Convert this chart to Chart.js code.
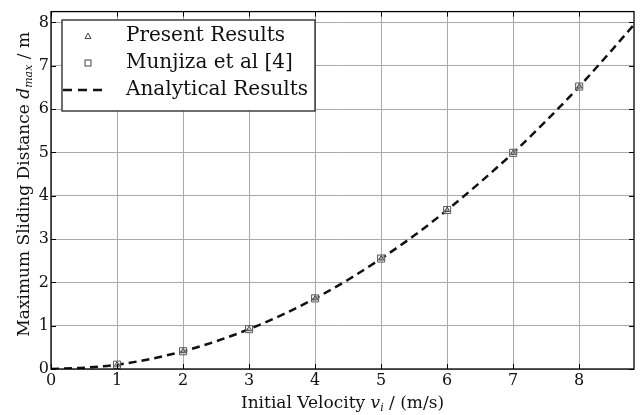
<!DOCTYPE html>
<html>
<head>
<meta charset="utf-8">
<script src="https://cdn.jsdelivr.net/npm/chart.js@4.4.0/dist/chart.umd.min.js"></script>
<style>
html,body{margin:0;padding:0;background:#fff;}
#wrap{width:641px;height:415px;}
</style>
</head>
<body>
<div id="wrap"><canvas id="c" width="641" height="415"></canvas></div>
<script>
// ---- data ----
const velocities = [1, 2, 3, 4, 5, 6, 7, 8];
const presentResults = [0.10, 0.41, 0.92, 1.63, 2.55, 3.67, 4.99, 6.52];
const munjizaResults = [0.10, 0.41, 0.92, 1.63, 2.55, 3.67, 4.99, 6.52];
const analyticalV = [0, 0.5, 1, 1.5, 2, 2.5, 3, 3.5, 4, 4.5, 5, 5.5, 6, 6.5, 7, 7.5, 8, 8.5, 8.83];
const analyticalD = [0, 0.03, 0.10, 0.23, 0.41, 0.64, 0.92, 1.25, 1.63, 2.06, 2.55, 3.08, 3.67, 4.31, 4.99, 5.73, 6.52, 7.37, 7.95];
const xTicks = [0, 1, 2, 3, 4, 5, 6, 7, 8];
const yTicks = [0, 1, 2, 3, 4, 5, 6, 7, 8];
const seriesLabels = ['Present Results', 'Munjiza et al [4]', 'Analytical Results'];

const FONT = '"DejaVu Serif", "Liberation Serif", serif';

function pts(xs, ys){ return xs.map((x,i)=>({x:x, y:ys[i]})); }

const frameAndTicks = {
  id: 'frameAndTicks',
  afterDatasetsDraw(chart){
    const {ctx, chartArea:a, scales} = chart;
    ctx.save();
    ctx.strokeStyle = '#000';
    ctx.lineWidth = 1;
    // inward tick marks
    ctx.beginPath();
    xTicks.forEach(v=>{
      const px = Math.round(scales.x.getPixelForValue(v)) + 0.5;
      ctx.moveTo(px, a.bottom); ctx.lineTo(px, a.bottom - 5);
      ctx.moveTo(px, a.top); ctx.lineTo(px, a.top + 5);
    });
    yTicks.forEach(v=>{
      const py = Math.round(scales.y.getPixelForValue(v)) + 0.5;
      ctx.moveTo(a.left, py); ctx.lineTo(a.left + 5, py);
      ctx.moveTo(a.right, py); ctx.lineTo(a.right - 5, py);
    });
    ctx.stroke();
    ctx.lineWidth = 1.3;
    ctx.strokeRect(a.left, a.top, a.right - a.left, a.bottom - a.top);

    // legend box
    const lx = 62, ly = 20, lw = 253, lh = 91;
    ctx.fillStyle = '#fff';
    ctx.fillRect(lx, ly, lw, lh);
    ctx.strokeStyle = '#222';
    ctx.lineWidth = 1.3;
    ctx.strokeRect(lx, ly, lw, lh);
    const rows = [36, 63, 90];
    const mx = 88;
    // triangle
    ctx.strokeStyle = '#444'; ctx.lineWidth = 1;
    ctx.beginPath();
    ctx.moveTo(mx, rows[0]-3); ctx.lineTo(mx+3, rows[0]+2.5); ctx.lineTo(mx-3, rows[0]+2.5); ctx.closePath();
    ctx.stroke();
    // square
    ctx.strokeRect(mx-3, rows[1]-3, 6, 6);
    // dashed line
    ctx.strokeStyle = '#111'; ctx.lineWidth = 2.5;
    ctx.setLineDash([9, 6]);
    ctx.beginPath(); ctx.moveTo(63, rows[2]); ctx.lineTo(106, rows[2]); ctx.stroke();
    ctx.setLineDash([]);
    ctx.fillStyle = '#111';
    ctx.font = '20px ' + FONT;
    ctx.textBaseline = 'middle';
    ctx.textAlign = 'left';
    seriesLabels.forEach((t,i)=> ctx.fillText(t, 126, rows[i]));

    // axis titles with italic math parts
    function drawRich(parts, cx, cy, rot){
      ctx.save();
      ctx.translate(cx, cy);
      ctx.rotate(rot);
      let total = 0;
      parts.forEach(p=>{ ctx.font = p.f; p.w = ctx.measureText(p.t).width; total += p.w; });
      let x = -total/2;
      ctx.textBaseline = 'alphabetic';
      ctx.textAlign = 'left';
      parts.forEach(p=>{ ctx.font = p.f; ctx.fillText(p.t, x, 5 + (p.dy||0)); x += p.w; });
      ctx.restore();
    }
    ctx.fillStyle = '#111';
    const base = '17px ' + FONT;
    const ital = 'italic 17px ' + FONT;
    const sub = 'italic 11px ' + FONT;
    drawRich([
      {t:'Initial Velocity ', f:base},
      {t:'v', f:ital},
      {t:'i', f:sub, dy:3},
      {t:' / (m/s)', f:base}
    ], (a.left + a.right)/2, 403, 0);
    drawRich([
      {t:'Maximum Sliding Distance ', f:base},
      {t:'d', f:ital},
      {t:'max', f:sub, dy:3},
      {t:' / m', f:base}
    ], 24, (a.top + a.bottom)/2 - 6, -Math.PI/2);
    ctx.restore();
  }
};

new Chart(document.getElementById('c'), {
  type: 'scatter',
  data: {
    datasets: [
      {
        label: seriesLabels[2],
        type: 'line',
        data: pts(analyticalV, analyticalD),
        borderColor: '#111',
        borderWidth: 2.5,
        borderDash: [8, 5],
        pointRadius: 0,
        fill: false,
        cubicInterpolationMode: 'monotone',
        order: 3
      },
      {
        label: seriesLabels[1],
        data: pts(velocities, munjizaResults),
        pointStyle: 'rect',
        pointRadius: 5,
        pointBorderColor: '#555',
        pointBackgroundColor: 'rgba(255,255,255,0.6)',
        pointBorderWidth: 1,
        order: 2
      },
      {
        label: seriesLabels[0],
        data: pts(velocities, presentResults),
        pointStyle: 'triangle',
        pointRadius: 3,
        pointBorderColor: '#444',
        pointBackgroundColor: 'rgba(255,255,255,0)',
        pointBorderWidth: 1,
        order: 1
      }
    ]
  },
  options: {
    responsive: false,
    animation: false,
    devicePixelRatio: 1,
    layout: { padding: { top: 10, right: 7, left: 0, bottom: 0 } },
    plugins: { legend: { display: false }, tooltip: { enabled: false } },
    scales: {
      x: {
        type: 'linear',
        min: 0, max: 8.83,
        afterFit(s){ s.height = 46; },
        afterBuildTicks(s){ s.ticks = xTicks.map(v=>({value:v})); },
        ticks: { font: { family: FONT, size: 16 }, color: '#111', padding: 2, maxRotation: 0 },
        grid: { color: '#aaaaaa', lineWidth: 1, drawTicks: false },
        border: { display: false }
      },
      y: {
        type: 'linear',
        min: 0, max: 8.25,
        afterFit(s){ s.width = 51; },
        afterBuildTicks(s){ s.ticks = yTicks.map(v=>({value:v})); },
        ticks: { font: { family: FONT, size: 16 }, color: '#111', padding: 2 },
        grid: { color: '#aaaaaa', lineWidth: 1, drawTicks: false },
        border: { display: false }
      }
    }
  },
  plugins: [frameAndTicks]
});
</script>
</body>
</html>
